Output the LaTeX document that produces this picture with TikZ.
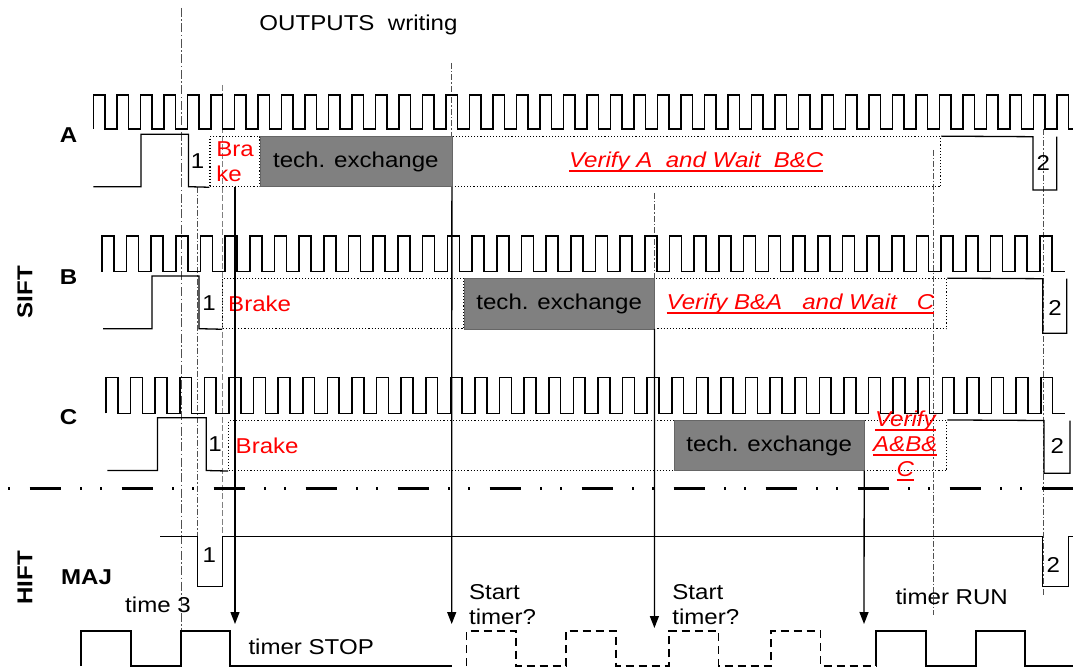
\documentclass[tikz,border=0pt]{standalone}
\usepackage{fontspec}
\setmainfont{Liberation Sans}[FakeStretch=1.12]
\usepackage{xcolor}
\usepackage{tikz}
\usetikzlibrary{arrows.meta}

\definecolor{techgray}{HTML}{808080}
\definecolor{guidegray}{HTML}{505050}
\newcommand{\undl}[1]{\begingroup\setbox0\hbox{#1}\rlap{\rule[-4.5pt]{\wd0}{2pt}}\box0\endgroup}

\begin{document}
\begin{tikzpicture}[x=1pt, y=-1pt,
  every node/.style={inner sep=0pt},
  clk/.style={line width=1.6pt},
  sig/.style={line width=1.3pt},
  stage/.style={draw, dotted, line width=1.1pt, minimum height=50pt},
  tech/.style={draw=black!60, fill=techgray, minimum height=50pt},
  guide/.style={guidegray, line width=0.8pt, dash pattern=on 6pt off 2pt on 1.5pt off 2pt},
  flow/.style={line width=1.3pt, -{Triangle[length=12pt,width=9pt]}}]
\fontsize{21.5}{25}\selectfont
\useasboundingbox (0,0) rectangle (1073,668);

% timing guides
\draw[guidegray, line width=0.9pt, dash pattern=on 9pt off 2.5pt on 1.5pt off 2.5pt] (181,8) -- (181,631);
\draw[guide] (197.5,186.7) -- (197.5,536.7);
\draw[gray, line width=0.9pt, dash pattern=on 6pt off 2.5pt] (222.7,85) -- (222.7,536.7);
\draw[guide] (451.7,63) -- (451.7,137);
\draw[guide] (654.4,193) -- (654.4,279);
\draw[guide] (933.3,150) -- (933.3,615);
\draw[guide] (1043.3,129) -- (1043.3,595);

% clocks
\draw[clk] (93.3,129) \foreach \k in {0,...,41} { -- ++(0,-34) -- ++(11.75,0) -- ++(0,34) -- ++(11.75,0) };
\draw[clk] (101.7,271.7) \foreach \k in {0,...,38} { -- ++(0,-35.7) -- ++(12,0) -- ++(0,35.7) -- ++(12.69,0) };
\draw[clk] (106,413.3) \foreach \k in {0,...,38} { -- ++(0,-36) -- ++(11.8,0) -- ++(0,36) -- ++(12.8,0) };

% row A
\node[stage, minimum width=50pt, text=red, align=left] (brakeA) at (235,161.7) {Bra\\ke};
\node[stage, minimum width=489pt, text=red, font=\itshape] (waitA) at (696.2,161.7) {\undl{Verify A\ \ and Wait\ \ B\&C}};
\node[tech, minimum width=191.7pt] (techA) at (355.85,161.7) {tech. exchange};

% row B
\node[stage, minimum width=241.3pt, text width=230.3pt, inner xsep=5.5pt, align=left, text=red] (brakeB) at (343.35,303.7) {Brake};
\node[stage, minimum width=292.4pt, text=red, font=\itshape] (waitB) at (800.5,303.7) {\undl{Verify B\&A\ \ \ and Wait\ \ \ C}};
\node[tech, minimum width=190.3pt] (techB) at (559.15,303.7) {tech. exchange};

% row C
\node[stage, minimum width=445.6pt, text width=431.6pt, inner xsep=7pt, align=left, text=red] (brakeC) at (451.5,445.5) {Brake};
\node[stage, minimum width=82.7pt] (waitC) at (905.35,445.5) {};
\node[tech, minimum width=189.7pt] (techC) at (769.15,445.5) {tech. exchange};
\node[red, font=\itshape, align=center] (waitCtext) at (905.35,445.5) {\undl{Verify}\\\undl{A\&B\&}\\\undl{C}};

% state lines
\draw[sig] (93.3,186.7) -- (141,186.7) -- (141,134.3) -- (188.5,134.3) -- (188.5,186.7) -- (brakeA.south west);
\draw[sig] (waitA.north east) -- (1033,136.7) -- (1033,190) -- (1056.7,190) -- (1056.7,136.7);
\draw[sig] (103,328.7) -- (152,328.7) -- (152,276) -- (199,276) -- (199,328.7) -- (brakeB.south west);
\draw[sig] (waitB.north east) -- (1042.7,278.7) -- (1042.7,333.3) -- (1066.7,333.3) -- (1066.7,278.7);
\draw[sig] (107.3,470.5) -- (157.5,470.5) -- (157.5,417.7) -- (206.3,417.7) -- (206.3,470.5) -- (brakeC.south west);
\draw[sig] (waitC.north east) -- (1044,420.5) -- (1044,473.3) -- (1070,473.3) -- (1070,420.5);

% SIFT / HIFT border
\draw[line width=3.3pt, dash pattern=on 2pt off 19.5pt on 31.5pt off 19pt on 2pt off 18pt] (8,488.3) -- (1073,488.3);

% MAJ
\draw[line width=1pt] (160,536.7) -- (197.5,536.7) -- (197.5,586) -- (222.7,586) -- (222.7,536.7) -- (1042.7,536.7) -- (1042.7,586) -- (1068,586) -- (1068,536.7) -- (1073,536.7);

% timer
\draw[sig] (81,666) -- (81,631) -- (131,631) -- (131,666) -- (181,666) -- (181,631) -- (230,631) -- (230,666) -- (451.7,666);
\draw[sig, dash pattern=on 8pt off 5pt] (466.7,666) -- (466.7,631) -- (516,631) -- (516,666) -- (566,666) -- (566,631) -- (616,631) -- (616,666) -- (669,666) -- (669,631) -- (718.3,631) -- (718.3,666) -- (771,666) -- (771,631) -- (820.7,631) -- (820.7,666) -- (876,666);
\draw[sig] (876,666) -- (876,631) -- (926,631) -- (926,666) -- (976,666) -- (976,631) -- (1025,631) -- (1025,666) -- (1073,666);

% arrows to the timer
\coordinate (hitStop) at (235,624);
\coordinate (hitStart1) at (451.7,624);
\coordinate (hitStart2) at (654.4,628);
\coordinate (hitRun) at (864,624);
\draw[flow] (brakeA.south) -- (hitStop);
\draw[flow] (techA.south east) -- (hitStart1);
\draw[flow] (techB.south east) -- (hitStart2);
\draw[flow] (techC.south east) -- (hitRun);

% labels
\node (outputs) at (358.5,25) {OUTPUTS\ \ writing};
\node[font=\bfseries] (labA) at (68.5,135.5) {A};
\node[font=\bfseries] (labB) at (68.5,277) {B};
\node[font=\bfseries] (labC) at (68.5,417) {C};
\node[font=\bfseries, rotate=90] (sift) at (25,292) {SIFT};
\node[font=\bfseries, rotate=90] (hift) at (25,578) {HIFT};
\node[font=\bfseries] (maj) at (86.5,577) {MAJ};
\node (oneA) at (197.5,161) {1};
\node (oneB) at (209,302.7) {1};
\node (oneC) at (215,444) {1};
\node (oneM) at (209.3,555) {1};
\node (twoA) at (1043.3,163) {2};
\node (twoB) at (1055,308.3) {2};
\node (twoC) at (1057.3,446) {2};
\node (twoM) at (1053.3,565) {2};
\node (time3) at (158,605) {time 3};
\node[anchor=west] (stop) at (248.3,646.7) {timer STOP};
\node[align=left] (start1) at (502.5,605) {Start\\timer?};
\node[align=left] (start2) at (705.8,605) {Start\\timer?};
\node (run) at (951.7,596.7) {timer RUN};

\end{tikzpicture}
\end{document}
